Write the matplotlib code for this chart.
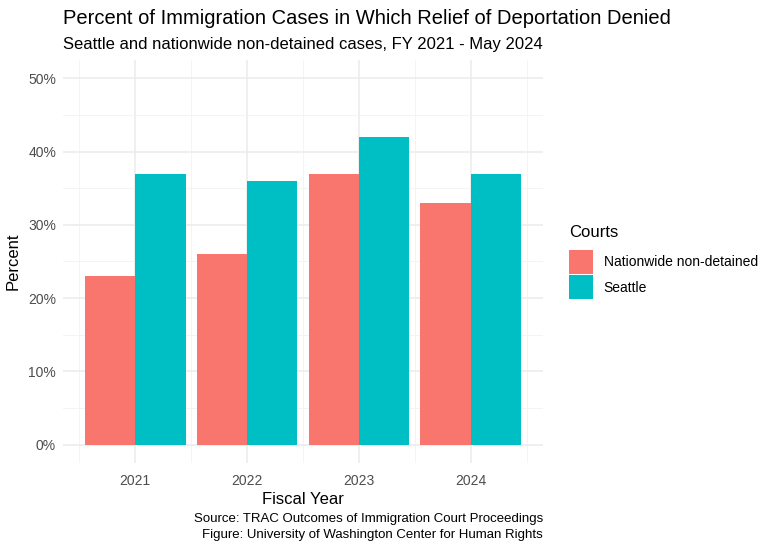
import matplotlib.pyplot as plt
import numpy as np
from matplotlib.patches import Patch

# Data
years = np.array([2021, 2022, 2023, 2024])
nationwide = np.array([23, 26, 37, 33])
seattle = np.array([37, 36, 42, 37])
courts = ["Nationwide non-detained", "Seattle"]
colors = ["#F8766D", "#00BFC4"]

plt.rcParams['font.family'] = ['Liberation Sans', 'DejaVu Sans']

W, H = 768, 549
fig = plt.figure(figsize=(W / 100, H / 100), dpi=100)
ax = fig.add_axes([63 / W, 1 - 463 / H, (543 - 63) / W, (463 - 60) / H])

bw = 0.45
ax.bar(years - bw / 2, nationwide, width=bw, color=colors[0], zorder=3)
ax.bar(years + bw / 2, seattle, width=bw, color=colors[1], zorder=3)

# ggplot-like expansion
lo, hi = years.min() - bw, years.max() + bw
rng = hi - lo
ax.set_xlim(lo - 0.05 * rng, hi + 0.05 * rng)
ax.set_ylim(-2.5, 52.5)

ax.set_xticks(years)
ax.set_xticks(np.arange(years.min() - 0.5, years.max() + 1, 1.0), minor=True)
ax.set_yticks(np.arange(0, 51, 10))
ax.set_yticks(np.arange(5, 50, 10), minor=True)
ax.set_yticklabels([f"{v}%" for v in range(0, 51, 10)])

ax.grid(True, which='major', color='#EBEBEB', linewidth=1.1, zorder=0)
ax.grid(True, which='minor', color='#F2F2F2', linewidth=0.6, zorder=0)
ax.tick_params(which='both', length=0, colors='#4D4D4D', labelsize=10)
ax.tick_params(axis='x', pad=8)
ax.tick_params(axis='y', pad=5)
for s in ax.spines.values():
    s.set_visible(False)

ax.set_xlabel("Fiscal Year", fontsize=12, labelpad=3)
ax.set_ylabel("Percent", fontsize=12, labelpad=5)

fig.text(63 / W, 1 - 18 / H, "Percent of Immigration Cases in Which Relief of Deportation Denied",
         fontsize=14.5, va='center', ha='left')
fig.text(63 / W, 1 - 45 / H, "Seattle and nationwide non-detained cases, FY 2021 - May 2024",
         fontsize=12, va='center', ha='left')
fig.text(543 / W, 1 - 519 / H, "Source: TRAC Outcomes of Immigration Court Proceedings",
         fontsize=9.5, va='center', ha='right')
fig.text(543 / W, 1 - 535 / H, "Figure: University of Washington Center for Human Rights",
         fontsize=9.5, va='center', ha='right')

handles = [Patch(facecolor=c, edgecolor='none') for c in colors]
leg = fig.legend(handles, courts, title="Courts", loc='upper left',
                 bbox_to_anchor=(569 / W, 1 - 225 / H), frameon=False,
                 fontsize=10, title_fontsize=12, handlelength=1.75, handleheight=2.3,
                 handletextpad=0.75, labelspacing=0.1, borderaxespad=0, borderpad=0)
leg._legend_box.align = "left"
leg._legend_box.sep = 7

fig.savefig("out.png", dpi=100)
